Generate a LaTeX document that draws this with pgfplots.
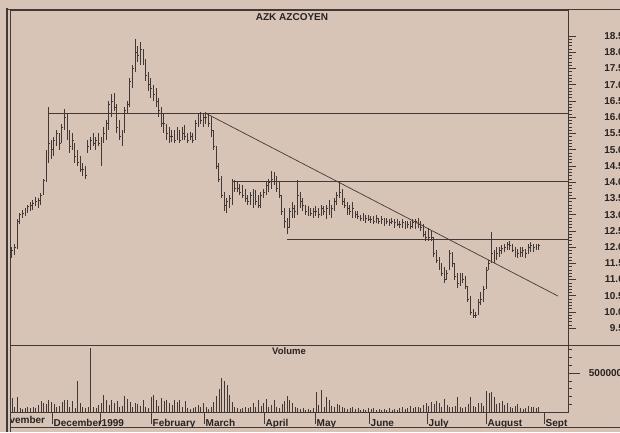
\documentclass[border=0pt]{standalone}
\usepackage{pgfplots}
\pgfplotsset{compat=1.18}
\usepackage{pgfplotstable}
\usepackage{fontspec}
\setmainfont{Liberation Sans}
\definecolor{paper}{RGB}{215,196,182}
\definecolor{ink}{RGB}{66,57,55}
\definecolor{txt}{RGB}{40,34,34}
\pgfdeclareplotmark{cltick}{\pgfpathmoveto{\pgfqpoint{0pt}{0pt}}\pgfpathlineto{\pgfqpoint{1.4pt}{0pt}}\pgfusepathqstroke}

\pgfplotstableread{
i lo hi cl
0 11.65 12.0 11.9
1 11.75 12.1 12.0
2 11.95 12.85 12.8
3 12.7 13.05 13.0
4 12.9 13.15 13.05
5 12.95 13.2 13.1
6 13.05 13.3 13.25
7 13.1 13.4 13.3
8 13.15 13.45 13.35
9 13.25 13.55 13.4
10 13.2 13.5 13.45
11 13.3 13.65 13.6
12 13.6 14.1 14.05
13 14.0 15.0 14.9
14 14.6 16.3 15.2
15 14.7 15.3 15.0
16 14.8 15.4 15.3
17 15.1 15.6 15.5
18 15.0 15.5 15.2
19 15.2 15.8 15.7
20 15.6 16.25 16.0
21 15.3 16.1 15.5
22 14.9 15.6 15.1
23 15.0 15.5 15.3
24 14.6 15.2 14.8
25 14.5 15.0 14.6
26 14.3 14.8 14.4
27 14.2 14.6 14.4
28 14.1 14.5 14.2
29 14.9 15.3 15.1
30 15.0 15.4 15.3
31 15.1 15.5 15.2
32 15.0 15.4 15.3
33 15.1 15.5 15.2
34 14.5 15.4 15.3
35 15.2 15.7 15.5
36 15.3 15.9 15.8
37 15.6 16.5 16.4
38 16.0 16.7 16.5
39 16.2 16.75 16.3
40 15.5 16.4 15.7
41 15.3 15.9 15.4
42 15.1 15.6 15.5
43 15.5 16.3 16.2
44 16.1 16.5 16.4
45 16.3 17.2 17.1
46 16.9 17.6 17.5
47 17.4 18.4 18.0
48 17.7 18.2 17.9
49 17.6 18.3 18.1
50 17.6 18.1 17.7
51 17.1 17.8 17.3
52 16.8 17.4 17.0
53 16.6 17.2 16.9
54 16.5 17.0 16.7
55 16.3 16.9 16.5
56 16.0 16.6 16.2
57 15.7 16.3 15.8
58 15.5 16.1 15.8
59 15.3 15.8 15.5
60 15.2 15.7 15.4
61 15.25 15.6 15.4
62 15.2 15.6 15.3
63 15.3 15.7 15.4
64 15.2 15.6 15.3
65 15.3 15.7 15.5
66 15.3 15.75 15.4
67 15.2 15.5 15.3
68 15.3 15.55 15.4
69 15.2 15.5 15.3
70 15.3 15.9 15.8
71 15.7 16.1 16.0
72 15.8 16.15 15.9
73 15.7 16.1 16.0
74 15.8 16.15 16.0
75 15.7 16.1 15.8
76 15.4 16.0 15.6
77 15.0 15.6 15.1
78 14.4 15.1 14.5
79 14.0 14.6 14.1
80 13.5 14.2 13.6
81 13.1 13.7 13.3
82 13.05 13.5 13.4
83 13.2 13.6 13.5
84 13.3 14.1 14.0
85 13.7 14.05 13.8
86 13.7 14.0 13.8
87 13.6 13.95 13.7
88 13.5 13.9 13.6
89 13.4 13.8 13.5
90 13.3 13.6 13.4
91 13.3 13.7 13.6
92 13.2 13.8 13.7
93 13.3 13.75 13.4
94 13.2 13.6 13.3
95 13.2 13.7 13.6
96 13.5 13.8 13.7
97 13.6 14.0 13.9
98 13.7 14.1 14.0
99 13.8 14.35 14.1
100 13.9 14.3 14.0
101 13.7 14.2 13.8
102 13.5 14.0 13.6
103 13.0 13.6 13.1
104 12.6 13.2 12.8
105 12.4 12.9 12.6
106 12.6 13.2 13.1
107 12.9 13.4 13.2
108 12.9 13.3 13.1
109 13.0 14.05 13.6
110 13.2 13.7 13.4
111 13.1 13.5 13.3
112 13.0 13.3 13.1
113 12.95 13.25 13.1
114 12.95 13.2 13.05
115 12.9 13.2 13.1
116 12.95 13.25 13.1
117 12.9 13.2 13.0
118 12.95 13.3 13.2
119 13.0 13.25 13.1
120 12.85 13.3 13.2
121 13.0 13.45 13.3
122 12.9 13.3 13.2
123 13.1 13.5 13.4
124 13.3 13.7 13.6
125 13.5 14.0 13.7
126 13.3 13.8 13.4
127 13.2 13.5 13.3
128 13.0 13.4 13.2
129 13.0 13.3 13.1
130 12.9 13.4 13.2
131 12.9 13.1 13.0
132 12.85 13.1 12.95
133 12.8 13.0 12.9
134 12.8 13.05 12.95
135 12.75 13.0 12.9
136 12.8 13.0 12.85
137 12.75 12.95 12.85
138 12.7 12.95 12.8
139 12.75 13.0 12.9
140 12.7 12.9 12.8
141 12.7 12.95 12.85
142 12.65 12.9 12.8
143 12.7 12.9 12.8
144 12.65 12.85 12.75
145 12.7 12.9 12.8
146 12.6 12.85 12.75
147 12.65 12.85 12.7
148 12.6 12.8 12.7
149 12.6 12.85 12.75
150 12.55 12.8 12.7
151 12.6 12.8 12.7
152 12.55 12.8 12.65
153 12.6 12.85 12.75
154 12.55 12.85 12.8
155 12.6 12.9 12.7
156 12.5 12.8 12.6
157 12.3 12.7 12.4
158 12.2 12.5 12.3
159 12.2 12.6 12.3
160 12.2 12.5 12.3
161 11.7 12.3 11.8
162 11.5 11.9 11.6
163 11.3 11.7 11.4
164 11.1 11.5 11.2
165 10.9 11.4 11.0
166 11.0 11.3 11.2
167 11.3 11.9 11.8
168 11.4 11.85 11.5
169 11.0 11.5 11.1
170 10.75 11.2 10.9
171 10.8 11.2 11.1
172 10.9 11.2 11.0
173 10.7 11.1 10.8
174 10.3 10.8 10.4
175 9.9 10.5 10.0
176 9.8 10.1 9.9
177 9.8 10.0 9.9
178 9.9 10.4 10.3
179 10.2 10.6 10.4
180 10.3 10.8 10.7
181 10.7 11.4 11.3
182 11.3 11.6 11.5
183 11.5 12.45 11.8
184 11.5 11.9 11.7
185 11.6 12.0 11.8
186 11.7 12.0 11.9
187 11.8 12.05 11.95
188 11.85 12.1 12.0
189 11.9 12.15 12.1
190 11.9 12.2 12.05
191 11.85 12.1 11.9
192 11.7 12.0 11.8
193 11.65 11.95 11.8
194 11.7 12.0 11.85
195 11.7 12.0 11.9
196 11.65 11.95 11.8
197 11.8 12.1 12.0
198 11.85 12.15 12.05
199 11.85 12.1 12.0
200 11.9 12.1 12.0
201 11.9 12.1 12.05
}\pricedata

\pgfplotstableread{
i v
0 1.8
1 0.6
2 1.9
3 0.5
4 0.4
5 0.5
6 0.6
7 0.5
8 0.7
9 0.5
10 0.9
11 1.4
12 1.2
13 1.0
14 1.6
15 1.3
16 1.0
17 0.6
18 0.8
19 1.3
20 1.5
21 1.6
22 0.7
23 1.4
24 0.5
25 4.0
26 1.2
27 0.6
28 0.5
29 0.7
30 8.2
31 0.6
32 0.5
33 0.9
34 1.1
35 2.2
36 1.5
37 0.9
38 1.6
39 1.2
40 1.4
41 0.7
42 0.8
43 2.0
44 1.7
45 1.3
46 0.6
47 1.2
48 1.0
49 0.8
50 1.5
51 0.6
52 0.5
53 1.9
54 2.2
55 1.6
56 0.8
57 1.8
58 1.4
59 1.5
60 1.2
61 0.9
62 1.6
63 1.3
64 1.5
65 0.7
66 1.4
67 0.5
68 0.4
69 0.5
70 0.6
71 0.9
72 0.7
73 1.1
74 0.6
75 0.4
76 0.7
77 1.3
78 2.0
79 3.0
80 4.3
81 4.0
82 3.4
83 2.2
84 1.3
85 0.6
86 0.5
87 0.4
88 0.5
89 0.6
90 0.5
91 0.6
92 1.2
93 0.7
94 1.6
95 0.8
96 1.1
97 1.7
98 0.7
99 0.9
100 1.5
101 0.6
102 0.5
103 1.0
104 1.4
105 2.0
106 1.6
107 1.2
108 0.7
109 0.5
110 0.4
111 0.5
112 0.3
113 0.4
114 0.3
115 0.5
116 2.6
117 0.9
118 2.8
119 0.7
120 1.9
121 1.6
122 0.8
123 0.6
124 1.0
125 0.9
126 0.6
127 0.5
128 0.4
129 0.5
130 0.6
131 0.4
132 0.5
133 0.3
134 0.4
135 0.3
136 0.5
137 0.4
138 0.5
139 0.3
140 0.4
141 0.3
142 0.4
143 0.3
144 0.5
145 0.3
146 0.4
147 0.3
148 0.5
149 0.7
150 0.4
151 0.5
152 0.8
153 0.5
154 0.6
155 0.7
156 0.5
157 0.9
158 1.1
159 0.8
160 1.3
161 1.0
162 1.4
163 1.2
164 0.7
165 1.7
166 0.9
167 0.6
168 0.7
169 0.8
170 1.9
171 0.6
172 0.5
173 0.7
174 1.0
175 1.9
176 0.8
177 0.6
178 1.1
179 1.2
180 0.8
181 2.7
182 2.5
183 2.6
184 1.9
185 1.0
186 1.2
187 1.4
188 0.9
189 1.2
190 0.6
191 0.5
192 0.8
193 1.0
194 0.5
195 0.4
196 0.5
197 0.8
198 0.6
199 0.7
200 0.5
201 0.7
}\voldata

\begin{document}
\begin{tikzpicture}[x=1pt,y=1pt]
\fill[paper] (0,0) rectangle (620,432);
\pgfplotsset{
  common/.style={
    scale only axis, width=558pt, xmin=-0.763, xmax=212.21,
    axis line style={ink, line width=0.8pt},
    tick style={ink, line width=0.5pt},
    ytick pos=right, yticklabel pos=right, ytick align=outside,
    major tick length=8pt, minor tick length=4pt,
    tick label style={font=\fontsize{10}{12}\bfseries\selectfont, text=txt},
    yticklabel style={anchor=east, inner sep=0pt, xshift=48pt},
  }
}
\begin{axis}[common, name=price, at={(10pt,87pt)}, anchor=south west,
  height=335pt, ymin=8.983, ymax=19.30,
  xtick=\empty,
  ytick={9.5,10,...,18.5}, minor y tick num=4,
  yticklabel style={/pgf/number format/.cd, fixed, fixed zerofill, precision=1, assume math mode=true},
]
\addplot[draw=none, mark=none, error bars/.cd, y dir=both, y explicit,
  error mark=none, error bar style={draw=ink, line width=1pt}]
  table[x=i, y expr={(\thisrow{hi}+\thisrow{lo})/2}, y error expr={(\thisrow{hi}-\thisrow{lo})/2}] {\pricedata};
\addplot[only marks, mark=cltick, mark options={ink, line width=0.4pt}] table[x=i, y=cl] {\pricedata};
\addplot[ink, line width=0.8pt] coordinates {(14.1,16.13) (212.21,16.13)};
\addplot[ink, line width=0.8pt] coordinates {(84,14.03) (212.21,14.03)};
\addplot[ink, line width=0.8pt] coordinates {(105,12.22) (212.21,12.22)};
\addplot[ink, line width=0.7pt] coordinates {(73.7,16.13) (208.4,10.49)};
\end{axis}
\begin{axis}[common, name=vol, at={(10pt,20pt)}, anchor=south west,
  height=67pt, ymin=0, ymax=8.59,
  ytick={5}, yticklabels={5000000}, minor ytick={1,2,3,4,6,7,8},
  xtick={15.27,33.59,53.05,73.28,96.18,115.65,136.26,158.4,180.92,203.05},
  xticklabels={December,1999,February,March,April,May,June,July,August,Sept},
  xtick pos=bottom, xtick align=outside, xticklabel style={anchor=north west, inner sep=0pt, xshift=1.5pt, yshift=5pt},
  x tick style={line width=0.4pt}, major tick length=12pt,
]
\addplot[ycomb, mark=none, ink, line width=0.55pt] table[x=i, y=v] {\voldata};
\end{axis}
\node[font=\fontsize{10}{12}\bfseries\selectfont, text=txt] at (292,415) {AZK AZCOYEN};
\node[font=\fontsize{9.5}{11}\bfseries\selectfont, text=txt] at (289,81) {Volume};
\begin{scope}
\clip (10.5,0) rectangle (60,20);
\node[anchor=north west, inner sep=0pt, font=\fontsize{10}{12}\bfseries\selectfont, text=txt] at (-4,15.5) {November};
\end{scope}
\draw[ink, line width=0.8pt] (568,87) -- (620,87);
\draw[ink, line width=0.8pt] (5.5,422.5) -- (620,422.5);
\draw[ink, line width=2pt] (7,0) -- (7,423.5);
\draw[ink, line width=0.8pt] (10,0) -- (10,20);
\draw[ink, line width=0.8pt] (10,4.5) -- (620,4.5);
\pgfresetboundingbox
\useasboundingbox (0,0) rectangle (620,432);
\end{tikzpicture}
\end{document}
